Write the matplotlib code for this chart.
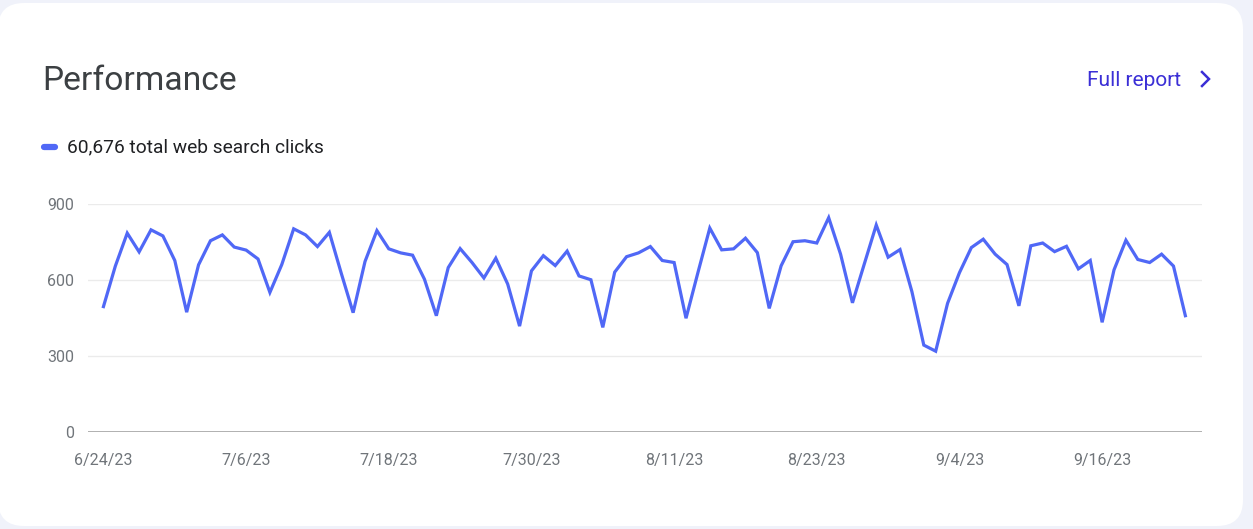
import numpy as np
import pandas as pd
import matplotlib
matplotlib.use('Agg')
import matplotlib.pyplot as plt
import matplotlib.dates as mdates
from matplotlib.patches import FancyBboxPatch
from matplotlib.lines import Line2D

# daily web search clicks, 6/24/23 .. 9/23/23
clicks = [
    495, 655, 785, 711, 798, 774, 677, 473, 660, 755,
    778, 730, 718, 683, 551, 661, 802, 778, 732, 788,
    627, 471, 673, 795, 723, 707, 698, 603, 459, 649,
    724, 669, 608, 686, 584, 418, 636, 696, 657, 714,
    616, 601, 413, 631, 692, 707, 732, 677, 669, 449,
    629, 805, 719, 723, 765, 708, 488, 656, 751, 755,
    746, 846, 702, 510, 664, 817, 690, 720, 554, 343,
    319, 508, 629, 728, 761, 702, 661, 498, 735, 746,
    712, 733, 644, 677, 433, 640, 757, 681, 669, 702,
    655, 459,
]
start_date = '2023-06-24'
y_ticks = [0, 300, 600, 900]
total_label = '60,676 total web search clicks'

dates = pd.date_range(start_date, periods=len(clicks), freq='D')

LINE = '#5068f6'
GRAY = '#70757a'
W, H = 1253, 529

fig = plt.figure(figsize=(W / 100, H / 100), dpi=100)
fig.patch.set_facecolor('#f0f2fa')

# white card
card = FancyBboxPatch((-2, 3), 1245, 523, boxstyle='round,pad=0,rounding_size=26',
                      transform=None, facecolor='white', edgecolor='none', zorder=0)
fig.add_artist(card)

ax = fig.add_axes([88 / W, (H - 432) / H, (1202 - 88) / W, (432 - 204) / H])
ax.set_facecolor('none')
ax.plot(dates, clicks, color=LINE, lw=2.3, solid_joinstyle='miter', clip_on=False, zorder=3)

ax.set_ylim(0, 900)
ax.set_yticks(y_ticks)
ax.set_xlim(mdates.date2num(dates[0]) - 1.3, mdates.date2num(dates[-1]) + 1.4)
tick_dates = dates[::12]
ax.set_xticks(tick_dates)
ax.set_xticklabels([f"{d.month}/{d.day}/{d:%y}" for d in tick_dates])

for v in y_ticks[1:]:
    ax.axhline(v, color='#ebebeb', lw=1, zorder=1)
ax.axhline(0, color='#999999', lw=1.8, zorder=2)

for s in ax.spines.values():
    s.set_visible(False)
ax.tick_params(length=0, labelsize=11.5, labelcolor=GRAY)
ax.tick_params(axis='y', pad=10)
ax.tick_params(axis='x', pad=15)
for lab in ax.get_xticklabels() + ax.get_yticklabels():
    lab.set_fontfamily('Roboto')

# header texts
fig.text(42 / W, (H - 81) / H, 'Performance', fontsize=24.2, color='#3c4043',
         family='Roboto', va='center', ha='left')
fig.text(1087 / W, (H - 80) / H, 'Full report', fontsize=15, color='#3b2fd6',
         family='Roboto', va='center', ha='left')
fig.add_artist(Line2D([1202, 1209, 1202], [H - 72, H - 79, H - 86], transform=None,
                      color='#3b2fd6', lw=1.8, solid_joinstyle='miter'))

# legend marker + total
fig.add_artist(Line2D([44, 55], [H - 147, H - 147], transform=None, color=LINE,
                      lw=4.5, solid_capstyle='round'))
fig.text(67 / W, (H - 147) / H, total_label, fontsize=13.8, color='#202124',
         family='Roboto', va='center', ha='left')

fig.savefig('out.png', dpi=100)
